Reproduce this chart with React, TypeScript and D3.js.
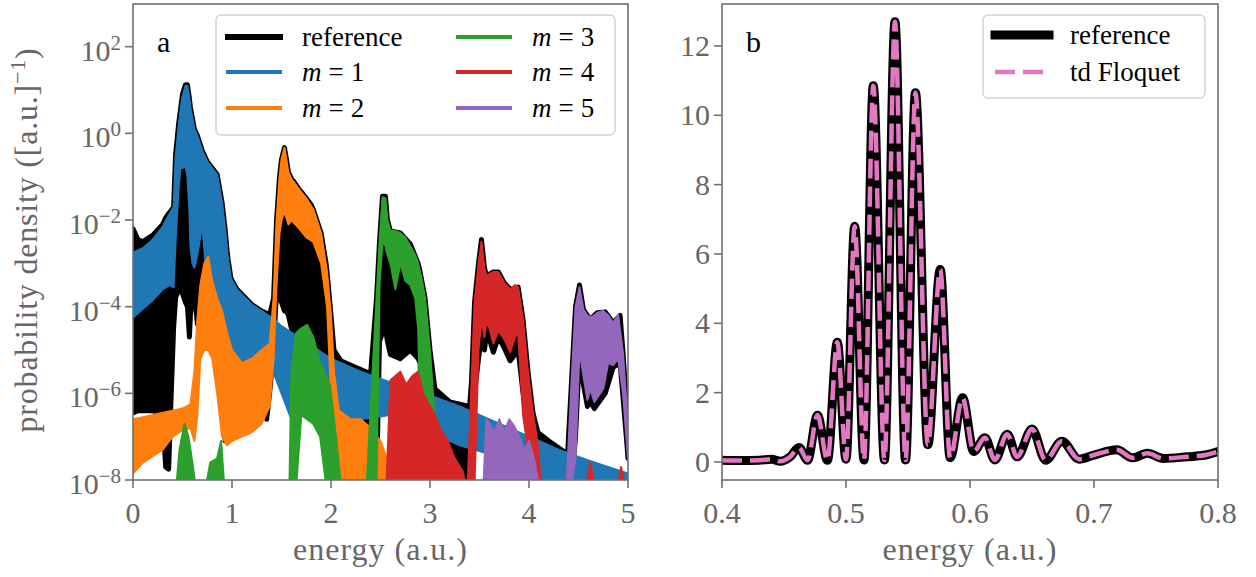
import React from 'react';
import * as d3 from 'd3';

type Row = [number, number, number] | null;

// ---------- Panel a: log10 probability density bands [energy, upper, lower] ----------
const referenceBand: Row[] = [
  [0, -2.2, -6.45], [0.05, -2.45, -6.4], [0.1, -2.5, -6.4], [0.2, -2.35, -6.4], [0.3, -2.1, -6.5],
  [0.33, -1.95, -7.7], [0.36, -1.85, -7.75], [0.38, -1.8, -6.4], [0.41, -1.7, -4.5], [0.43, -0.5, -3.8],
  [0.46, 0.2, -3.6], [0.5, 0.9, -3.7], [0.53, 1.12, -3.9], [0.55, 1.12, -4.0], [0.57, 0.8, -4.7],
  [0.58, 0.6, -4.2], [0.6, 0.35, -3.8], [0.62, 0.1, -3.6], [0.65, -0.05, -4.4], [0.7, -0.4, -4.5],
  [0.75, -0.65, -4.9], [0.8, -0.8, -4.4], [0.85, -0.95, -4.6], [0.9, -1.6, -5.5], [0.93, -2.2, -7.1],
  [0.95, -2.7, -7.1], [0.96, -2.9, -5.8], [0.99, -3.35, -5.6], [1.05, -3.6, -5.7], [1.2, -3.95, -5.75],
  [1.3, -4.1, -5.7], [1.35, -4.15, -6.6], [1.38, -4.2, -6.0], [1.42, -3.8, -5.0], [1.45, -2.0, -3.6],
  [1.48, -1.0, -3.8], [1.5, -0.6, -3.9], [1.53, -0.33, -4.1], [1.55, -0.6, -4.1], [1.57, -0.9, -4.2],
  [1.6, -1.05, -4.5], [1.62, -1.1, -4.6], [1.68, -1.3, -4.8], [1.7, -1.35, -5.0], [1.75, -1.5, -5.1],
  [1.8, -1.65, -5.3], [1.82, -1.75, -5.3], [1.9, -2.3, -5.5], [1.95, -3.0, -7.0], [1.96, -3.2, -7.5],
  [2.0, -4.2, -8.1], [2.03, -5.0, -8.1], [2.1, -5.25, -8.1], [2.2, -5.35, -7.7], [2.3, -5.45, -7.8],
  [2.4, -5.55, -8.1], [2.46, -3.8, -8.1], [2.49, -2.5, -4.8], [2.52, -1.45, -4.6], [2.55, -1.45, -4.5],
  [2.57, -2.0, -4.8], [2.6, -2.25, -5.1], [2.7, -2.3, -5.2], [2.8, -2.55, -5.0], [2.88, -3.0, -5.2],
  [2.9, -3.2, -5.3], [2.95, -3.8, -8.1], [3.0, -5.0, -8.1], [3.05, -5.9, -8.1], [3.2, -6.2, -8.1],
  [3.4, -6.3, -8.1], [3.42, -5.7, -8.1], [3.45, -3.9, -6.0], [3.49, -3.0, -5.2], [3.52, -2.45, -4.7],
  [3.55, -3.1, -5.0], [3.57, -3.3, -4.65], [3.6, -3.25, -4.75], [3.64, -3.2, -5.05], [3.69, -3.2, -4.7],
  [3.75, -3.45, -4.95], [3.81, -3.6, -5.25], [3.89, -3.55, -5.0], [3.94, -4.3, -6.0], [3.99, -5.5, -7.0],
  [4.04, -6.45, -7.5], [4.09, -6.9, -8.1],
  [4.2, -7.1, -8.1], [4.39, -7.4, -8.1], [4.43, -5.7, -8.1], [4.47, -4.0, -7.0], [4.51, -3.5, -5.1],
  [4.55, -4.07, -5.8], [4.59, -4.2, -6.3], [4.62, -4.3, -6.2], [4.66, -4.2, -6.35], [4.69, -4.14, -6.25],
  [4.77, -4.12, -6.0], [4.85, -4.37, -5.4],
  [4.92, -4.2, -5.3], [4.95, -5.07, -6.1], [4.99, -6.45, -7.2], [5.0, -7.3, -7.5],
];

const m1Band: Row[] = [
  [0, -2.75, -4.25], [0.1, -2.65, -4.05], [0.2, -2.45, -3.85], [0.3, -2.15, -3.6], [0.37, -1.85, -3.5],
  [0.41, -1.7, -3.55], [0.43, -0.55, -2.5], [0.46, 0.15, -1.3], [0.48, 0.55, -0.8], [0.5, 0.85, -0.8],
  [0.53, 1.1, -0.75], [0.55, 1.1, -1.0], [0.57, 0.8, -1.8], [0.58, 0.6, -2.6], [0.6, 0.35, -3.0],
  [0.62, 0.1, -3.1], [0.65, -0.05, -2.8], [0.7, -0.4, -2.1], [0.75, -0.65, -3.5], [0.8, -0.8, -3.6],
  [0.85, -0.95, -3.7], [0.9, -1.6, -4.2], [0.93, -2.2, -4.6], [0.96, -2.9, -4.9], [0.99, -3.35, -5.1],
  [1.05, -3.6, -5.2], [1.2, -3.95, -5.3], [1.4, -4.25, -5.4], [1.5, -4.45, -6.0], [1.6, -4.6, -6.6],
  [1.7, -4.75, -6.0], [1.8, -4.9, -6.3], [2.0, -5.2, -6.6], [2.3, -5.5, -6.6], [2.6, -5.75, -6.5],
  [3.0, -6.05, -6.9], [3.3, -6.3, -7.2], [3.6, -6.6, -7.4], [4.0, -7.0, -7.7], [4.1, -7.1, -8.1],
  [4.3, -7.3, -8.1], [4.6, -7.55, -8.1], [5.0, -7.85, -8.1],
];

const m2Band: Row[] = [
  [0, -6.6, -7.85], [0.1, -6.55, -7.6], [0.2, -6.5, -7.45], [0.3, -6.45, -7.3], [0.4, -6.4, -7.0],
  [0.5, -6.35, -6.85], [0.58, -6.25, -6.8], [0.62, -5.5, -7.1], [0.65, -4.3, -6.5], [0.68, -3.5, -5.2],
  [0.72, -3.0, -5.0], [0.76, -2.85, -5.0], [0.8, -3.4, -5.2], [0.85, -3.8, -6.0], [0.9, -4.1, -7.0],
  [0.95, -4.6, -7.2], [1.0, -5.0, -7.1], [1.1, -5.3, -7.0], [1.2, -5.2, -6.9], [1.3, -5.0, -6.7],
  [1.38, -4.85, -6.3], [1.42, -3.8, -5.2], [1.45, -2.0, -3.5], [1.48, -1.0, -2.3], [1.5, -0.6, -2.0],
  [1.53, -0.33, -1.8], [1.57, -0.9, -2.1], [1.6, -1.05, -2.0], [1.68, -1.3, -2.2], [1.75, -1.5, -2.4],
  [1.82, -1.75, -2.5], [1.9, -2.3, -3.0], [1.96, -3.2, -4.0], [2.0, -4.2, -6.0], [2.03, -5.5, -7.0],
  [2.08, -6.4, -8.1], [2.2, -6.6, -8.1], [2.3, -6.6, -8.1], [2.4, -6.8, -8.1], [2.5, -7.1, -8.1],
  [2.58, -7.6, -8.1], [2.65, -6.6, -8.1], [2.72, -6.4, -8.1], [2.78, -6.5, -8.1], [2.85, -6.7, -8.1],
  [2.95, -7.0, -8.1], [3.05, -7.2, -8.1], [3.15, -7.4, -8.1], [3.25, -7.7, -8.1], [3.3, -8.1, -8.1],
];

const m3Band: Row[] = [
  [0.44, -8.1, -8.1], [0.47, -7.3, -8.1], [0.52, -6.7, -8.1], [0.56, -7.0, -8.1], [0.6, -7.6, -8.1], [0.63, -8.1, -8.1],
  null,
  [0.74, -8.1, -8.1], [0.78, -7.6, -8.1], [0.85, -7.5, -8.1], [0.89, -7.1, -8.1], [0.92, -8.1, -8.1],
  null,
  [1.58, -8.1, -8.1], [1.6, -5.5, -8.1], [1.65, -4.6, -8.1], [1.7, -4.5, -6.5], [1.76, -4.42, -6.6],
  [1.82, -4.7, -6.7], [1.89, -5.3, -7.0], [1.95, -5.6, -8.1], [1.99, -5.8, -8.1], [2.05, -7.0, -8.1], [2.1, -8.1, -8.1],
  null,
  [2.36, -8.1, -8.1], [2.42, -5.5, -8.1], [2.46, -3.8, -8.1], [2.49, -2.5, -3.5], [2.52, -1.47, -2.5],
  [2.55, -1.5, -2.6], [2.57, -2.0, -2.8], [2.6, -2.25, -3.0], [2.65, -2.25, -3.6], [2.7, -2.3, -3.0],
  [2.75, -2.4, -3.4], [2.8, -2.6, -3.5], [2.85, -2.8, -3.8], [2.88, -3.0, -4.5], [2.92, -3.4, -8.1],
  [2.95, -3.8, -8.1], [3.0, -5.0, -8.1], [3.05, -6.7, -8.1], [3.1, -8.1, -8.1],
  null,
  [3.6, -8.1, -8.1], [3.63, -7.2, -8.1], [3.7, -7.5, -8.1], [3.75, -7.1, -8.1], [3.82, -7.6, -8.1],
  [3.88, -7.2, -8.1], [3.93, -8.1, -8.1],
];

const m4Band: Row[] = [
  [2.56, -8.1, -8.1], [2.6, -5.7, -8.1], [2.65, -5.6, -8.1], [2.7, -5.5, -8.1], [2.76, -5.8, -8.1],
  [2.82, -5.6, -8.1], [2.88, -5.5, -8.1], [2.93, -6.0, -8.1], [3.0, -6.3, -8.1], [3.05, -6.5, -8.1],
  [3.1, -6.8, -8.1], [3.18, -7.1, -8.1], [3.25, -7.5, -8.1], [3.33, -7.8, -8.1], [3.36, -8.1, -8.1],
  null,
  [3.38, -8.1, -8.1], [3.42, -5.7, -8.1], [3.45, -3.9, -8.1], [3.49, -3.0, -5.0], [3.52, -2.5, -4.3],
  [3.55, -3.1, -4.7], [3.57, -3.3, -4.35], [3.6, -3.25, -4.5], [3.64, -3.2, -4.85], [3.69, -3.2, -4.55],
  [3.75, -3.45, -4.75], [3.81, -3.6, -5.05], [3.86, -3.5, -4.7], [3.89, -3.55, -4.6], [3.94, -4.3, -6.5],
  [3.99, -5.5, -7.3], [4.04, -6.45, -7.5], [4.09, -7.2, -8.1], [4.12, -8.1, -8.1],
  null,
  [4.58, -8.1, -8.1], [4.62, -7.6, -8.1], [4.66, -8.1, -8.1],
  null,
  [4.9, -8.1, -8.1], [4.93, -7.7, -8.1], [4.96, -8.1, -8.1],
];

const m5Band: Row[] = [
  [3.54, -8.1, -8.1], [3.57, -6.6, -8.1], [3.6, -6.7, -8.1], [3.65, -6.9, -8.1], [3.7, -6.6, -8.1],
  [3.75, -6.9, -8.1], [3.8, -6.6, -8.1], [3.85, -6.75, -8.1], [3.9, -7.0, -8.1], [3.95, -7.3, -8.1],
  [4.0, -7.1, -8.1], [4.05, -7.5, -8.1], [4.1, -8.1, -8.1],
  null,
  [4.38, -8.1, -8.1], [4.43, -5.7, -8.1], [4.47, -4.0, -7.5], [4.51, -3.55, -5.0], [4.55, -4.07, -5.6],
  [4.59, -4.2, -6.15], [4.62, -4.25, -5.9], [4.66, -4.2, -6.2], [4.69, -4.14, -6.1], [4.75, -4.1, -5.9],
  [4.8, -4.2, -5.3], [4.85, -4.37, -5.35], [4.9, -4.2, -5.2], [4.95, -5.07, -6.0], [4.99, -6.45, -7.2],
  [5.0, -7.3, -7.5],
];

const seriesLabelsA = ['reference', '1', '2', '3', '4', '5'];
const seriesColorsA = ['#000000', '#1f77b4', '#ff7f0e', '#2ca02c', '#d62728', '#9467bd'];
const xTicksA = [0, 1, 2, 3, 4, 5];
const yTickExponentsA = [-8, -6, -4, -2, 0, 2];

// ---------- Panel b ----------
const energyB = [
  0.4, 0.415, 0.43, 0.44, 0.447, 0.455, 0.462, 0.469, 0.477, 0.485, 0.493, 0.5, 0.507, 0.5145, 0.522,
  0.531, 0.5395, 0.548, 0.556, 0.566, 0.576, 0.584, 0.594, 0.603, 0.612, 0.62, 0.63, 0.638, 0.65,
  0.661, 0.674, 0.688, 0.7, 0.7185, 0.731, 0.743, 0.756, 0.775, 0.79, 0.8,
];
const referenceB = [
  0.05, 0.04, 0.05, 0.08, 0.02, 0.15, 0.42, 0.05, 1.35, 0.05, 3.45, 0.08, 6.8, 0.06, 10.85,
  0.06, 12.7, 0.06, 10.65, 0.5, 5.55, 0.12, 1.85, 0.3, 0.7, 0.06, 0.8, 0.15, 0.95,
  0.05, 0.6, 0.08, 0.2, 0.35, 0.12, 0.25, 0.1, 0.15, 0.2, 0.3,
];
const floquetB = [
  0.05, 0.04, 0.05, 0.08, 0.02, 0.15, 0.42, 0.05, 1.35, 0.05, 3.45, 0.08, 6.8, 0.06, 10.85,
  0.06, 12.7, 0.06, 10.65, 0.5, 5.55, 0.12, 1.85, 0.3, 0.7, 0.06, 0.8, 0.15, 0.95,
  0.05, 0.6, 0.08, 0.2, 0.35, 0.12, 0.25, 0.1, 0.15, 0.2, 0.3,
];
const xTicksB = [0.4, 0.5, 0.6, 0.7, 0.8];
const yTicksB = [0, 2, 4, 6, 8, 10, 12];

const FONT = "'Liberation Serif', 'DejaVu Serif', serif";
const GRAY = '#666666';
const SPINE = '#707070';

export default function App() {
  const a = { left: 133, right: 628, top: 4, bottom: 480 };
  const b = { left: 722, right: 1218, top: 4, bottom: 480 };

  const xA = d3.scaleLinear().domain([0, 5]).range([a.left, a.right]);
  const yA = d3.scaleLog().domain([1e-8, Math.pow(10, 2.985)]).range([a.bottom, a.top]);
  const bandArea = d3
    .area<Row>()
    .defined((d) => d !== null)
    .x((d) => xA((d as number[])[0]))
    .y0((d) => yA(Math.pow(10, (d as number[])[2])))
    .y1((d) => yA(Math.pow(10, (d as number[])[1])));
  const bands = [referenceBand, m1Band, m2Band, m3Band, m4Band, m5Band];

  const xB = d3.scaleLinear().domain([0.4, 0.8]).range([b.left, b.right]);
  const yB = d3.scaleLinear().domain([-0.52, 13.21]).range([b.bottom, b.top]);
  const lineB = (vals: number[]) =>
    d3
      .line<number>()
      .x((_, i) => xB(energyB[i]))
      .y((d) => yB(d))
      .curve(d3.curveMonotoneX)(vals) || '';

  const legendRowsA = [37, 72, 108];

  return (
    <svg
      width={1256}
      height={577}
      style={{ position: 'absolute', left: 0, top: 0, background: '#fff' }}
      fontFamily={FONT}
    >
      <defs>
        <clipPath id="clipA">
          <rect x={a.left} y={a.top} width={a.right - a.left} height={a.bottom - a.top} />
        </clipPath>
        <clipPath id="clipB">
          <rect x={b.left} y={b.top} width={b.right - b.left} height={b.bottom - b.top} />
        </clipPath>
      </defs>
      <rect x={0} y={0} width={1256} height={577} fill="#fff" />

      {/* ---------------- Panel a ---------------- */}
      <g clipPath="url(#clipA)">
        {bands.map((band, i) => (
          <path
            key={i}
            d={bandArea(band) || ''}
            fill={seriesColorsA[i]}
            stroke={seriesColorsA[i]}
            strokeWidth={i === 0 ? 5 : 2}
            strokeLinejoin="round"
          />
        ))}
      </g>
      <rect
        x={a.left}
        y={a.top}
        width={a.right - a.left}
        height={a.bottom - a.top}
        fill="none"
        stroke={SPINE}
        strokeWidth={1.6}
      />
      {xTicksA.map((t) => (
        <g key={t}>
          <line x1={xA(t)} x2={xA(t)} y1={a.bottom} y2={a.bottom + 8} stroke={SPINE} strokeWidth={1.6} />
          <text x={xA(t)} y={523} textAnchor="middle" fontSize={30} fill={GRAY}>
            {t}
          </text>
        </g>
      ))}
      {yTickExponentsA.map((p) => {
        const y = yA(Math.pow(10, p));
        return (
          <g key={p}>
            <line x1={a.left - 8} x2={a.left} y1={y} y2={y} stroke={SPINE} strokeWidth={1.6} />
            <text x={121} y={y + 14} textAnchor="end" fontSize={30} fill={GRAY}>
              10
              <tspan dy={-11} fontSize={21}>
                {p < 0 ? '\u2212' + Math.abs(p) : String(p)}
              </tspan>
            </text>
          </g>
        );
      })}
      <text x={(a.left + a.right) / 2} y={560} textAnchor="middle" fontSize={32} letterSpacing={1} fill={GRAY}>
        energy (a.u.)
      </text>
      <text transform="translate(37,240) rotate(-90)" textAnchor="middle" fontSize={32} letterSpacing={0.8} fill={GRAY}>
        probability density ([a.u.]
        <tspan dy={-12} fontSize={22}>
          {'\u22121'}
        </tspan>
        <tspan dy={12}>)</tspan>
      </text>
      <text x={157} y={52} fontSize={30} fill="#000">
        a
      </text>

      {/* legend a */}
      <rect x={216} y={15} width={399} height={120} rx={5} fill="#fff" fillOpacity={0.8} stroke="#d4d4d4" strokeWidth={1.5} />
      {seriesLabelsA.map((lab, i) => {
        const col = i < 3 ? 0 : 1;
        const row = i % 3;
        const y = legendRowsA[row];
        const hx = col === 0 ? 228 : 458;
        const tx = col === 0 ? 302 : 532;
        return (
          <g key={lab}>
            <line
              x1={hx}
              x2={hx + 52}
              y1={y}
              y2={y}
              stroke={seriesColorsA[i]}
              strokeWidth={i === 0 ? 6 : 4}
              strokeLinecap="square"
            />
            <text x={tx} y={y + 9} fontSize={27} fill="#000">
              {i === 0 ? (
                lab
              ) : (
                <>
                  <tspan fontStyle="italic">m</tspan>
                  <tspan dx={7}>=</tspan>
                  <tspan dx={7}>{lab}</tspan>
                </>
              )}
            </text>
          </g>
        );
      })}

      {/* ---------------- Panel b ---------------- */}
      <g clipPath="url(#clipB)">
        <path d={lineB(referenceB)} fill="none" stroke="#000" strokeWidth={9} strokeLinejoin="round" strokeLinecap="round" />
        <path d={lineB(floquetB)} fill="none" stroke="#e377c2" strokeWidth={4.5} strokeDasharray="20 8" strokeLinejoin="round" />
      </g>
      <rect
        x={b.left}
        y={b.top}
        width={b.right - b.left}
        height={b.bottom - b.top}
        fill="none"
        stroke={SPINE}
        strokeWidth={1.6}
      />
      {xTicksB.map((t) => (
        <g key={t}>
          <line x1={xB(t)} x2={xB(t)} y1={b.bottom} y2={b.bottom + 8} stroke={SPINE} strokeWidth={1.6} />
          <text x={xB(t)} y={523} textAnchor="middle" fontSize={30} fill={GRAY}>
            {t.toFixed(1)}
          </text>
        </g>
      ))}
      {yTicksB.map((t) => (
        <g key={t}>
          <line x1={b.left - 8} x2={b.left} y1={yB(t)} y2={yB(t)} stroke={SPINE} strokeWidth={1.6} />
          <text x={710} y={yB(t) + 10} textAnchor="end" fontSize={30} fill={GRAY}>
            {t}
          </text>
        </g>
      ))}
      <text x={(b.left + b.right) / 2} y={560} textAnchor="middle" fontSize={32} letterSpacing={1} fill={GRAY}>
        energy (a.u.)
      </text>
      <text x={746} y={52} fontSize={30} fill="#000">
        b
      </text>

      {/* legend b */}
      <rect x={983} y={15} width={222} height={83} rx={5} fill="#fff" fillOpacity={0.8} stroke="#d4d4d4" strokeWidth={1.5} />
      <line x1={995} x2={1049} y1={35} y2={35} stroke="#000" strokeWidth={9} strokeLinecap="square" />
      <text x={1070} y={44} fontSize={27} fill="#000">
        reference
      </text>
      <line x1={995} x2={1049} y1={72} y2={72} stroke="#e377c2" strokeWidth={4.5} strokeDasharray="20 8" />
      <text x={1070} y={81} fontSize={27} fill="#000">
        td Floquet
      </text>
    </svg>
  );
}
